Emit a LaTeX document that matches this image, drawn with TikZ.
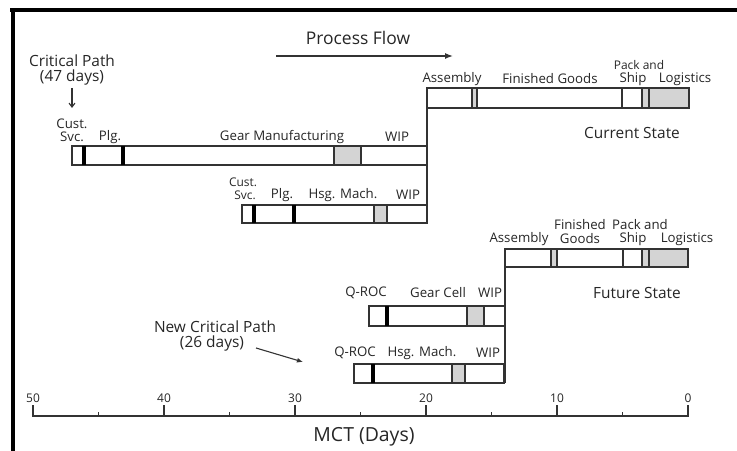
\documentclass[tikz,border=0pt]{standalone}
\usepackage{fontspec}
\setmainfont{Open Sans}
\usetikzlibrary{arrows.meta}
\definecolor{ln}{HTML}{333333}
\definecolor{gf}{HTML}{D4D4D4}
\tikzset{
  barbox/.style={draw=ln, line width=1.4bp, fill=white},
  grayseg/.style={draw=ln, line width=1.2bp, fill=gf},
  divline/.style={draw=ln, line width=1.2bp},
  blackmark/.style={draw=black, line width=3.2bp},
  lbl/.style={inner sep=0pt, font=\fontsize{13.3}{14}\selectfont, text=black!85},
  head/.style={inner sep=0pt, font=\fontsize{15.5}{16}\selectfont, text=black!85},
  smalllbl/.style={inner sep=0pt, font=\fontsize{12}{13}\selectfont, text=black!85},
  frameline/.style={draw=black, line width=4bp},
  axisline/.style={draw=ln, line width=1.3bp},
}
\begin{document}
\begin{tikzpicture}[x=1bp,y=-1bp]
\useasboundingbox (0,0) rectangle (737,451);
% frame
\draw[frameline] (10,10.5) -- (737,10.5);
\draw[frameline] (13,8.5) -- (13,451);

% ---------- Current state ----------
% top bar
\draw[barbox] (427,88) rectangle (689,108);
\draw[grayseg] (472,88) rectangle (477,108);
\draw[divline] (622,88) -- (622,108);
\draw[grayseg] (642,88) rectangle (649,108);
\draw[grayseg] (649,88) rectangle (689,108);
% gear manufacturing bar
\draw[barbox] (72,146) rectangle (427,165);
\draw[grayseg] (334,146) rectangle (361,165);
\draw[blackmark] (84,146) -- (84,165);
\draw[blackmark] (123,146) -- (123,165);
% housing bar
\draw[barbox] (242,205) rectangle (427,223);
\draw[grayseg] (374,205) rectangle (387,223);
\draw[blackmark] (254,205) -- (254,223);
\draw[blackmark] (294,205) -- (294,223);
% connector
\draw[divline, line width=1.4bp] (427,88) -- (427,223);

% ---------- Future state ----------
\draw[barbox] (505,249) rectangle (688,267);
\draw[grayseg] (551,249) rectangle (557,267);
\draw[divline] (623,249) -- (623,267);
\draw[grayseg] (642,249) rectangle (649,267);
\draw[grayseg] (649,249) rectangle (688,267);
% gear cell
\draw[barbox] (369,306) rectangle (505,326);
\draw[grayseg] (467,306) rectangle (484,326);
\draw[blackmark] (387,306) -- (387,326);
% housing
\draw[barbox] (354,364) rectangle (504,383);
\draw[grayseg] (452,364) rectangle (465,383);
\draw[blackmark] (373,364) -- (373,383);
\draw[divline, line width=1.4bp] (505,249) -- (505,383);

% ---------- Labels ----------
\node[inner sep=0pt, font=\fontsize{17.5}{18}\selectfont, text=black!85] (pf) at (358,38) {Process Flow};
\coordinate (pfa) at (276,56);
\coordinate (pfb) at (453,56);
\draw[ln, line width=1.3bp, -{Latex[length=8bp,width=6bp]}] (pfa) -- (pfb);

\node[head] (cp1) at (72,61) {Critical Path};
\node[head] (cp2) at (72,77) {(47 days)};
\coordinate (cpstart) at (72,88);
\coordinate (cpend) at (72,108);
\draw[ln, line width=1.1bp, -{Straight Barb[length=4bp,width=6bp]}] (cpstart) -- (cpend);

\node[lbl] (cust1) at (72,124) {Cust.};
\node[lbl] (svc1) at (72,137) {Svc.};
\node[lbl] (plg1) at (110,137) {Plg.};
\node[lbl] (gm) at (282,137) {Gear Manufacturing};
\node[lbl] (wip1) at (397,137) {WIP};

\node[lbl] (asm1) at (452,79) {Assembly};
\node[lbl] (fg1) at (550,79) {Finished Goods};
\node[smalllbl] (pa1) at (639,65) {Pack and};
\node[lbl] (sh1) at (633,79) {Ship};
\node[lbl] (lg1) at (685,79) {Logistics};
\node[head] (cs) at (632,133) {Current State};

\node[smalllbl] (cust2) at (243,182) {Cust.};
\node[smalllbl] (svc2) at (245,195.5) {Svc.};
\node[lbl] (plg2) at (282,195) {Plg.};
\node[lbl] (hm1) at (343,195) {Hsg. Mach.};
\node[lbl] (wip2) at (408,195) {WIP};

\node[lbl] (fin2) at (580,225) {Finished};
\node[lbl] (pa2) at (640,225) {Pack and};
\node[lbl] (asm2) at (519,239) {Assembly};
\node[lbl] (gd2) at (580,239) {Goods};
\node[lbl] (sh2) at (633,239) {Ship};
\node[lbl] (lg2) at (687,239) {Logistics};
\node[head] (fs) at (637,293) {Future State};

\node[lbl] (qr1) at (366,293) {Q-ROC};
\node[lbl] (gc) at (438,293) {Gear Cell};
\node[lbl] (wip3) at (490,293) {WIP};

\node[lbl] (qr2) at (355,353) {Q-ROC};
\node[lbl] (hm2) at (422,353) {Hsg. Mach.};
\node[lbl] (wip4) at (488,353) {WIP};

\node[head] (ncp1) at (215,327) {New Critical Path};
\node[head] (ncp2) at (212,343) {(26 days)};
\coordinate (ncpa) at (256,348);
\coordinate (ncpb) at (303,362);
\draw[ln, line width=1.1bp, -{Latex[length=6bp,width=5bp]}] (ncpa) -- (ncpb);

% ---------- Axis ----------
\draw[axisline] (33,405) -- (33,416) -- (688,416) -- (688,405);
\foreach \d in {10,20,30,40} {
  \draw[axisline] ({688-13.1*\d},405) -- ({688-13.1*\d},416);
}
\foreach \d in {5,15,25,35,45} {
  \draw[axisline] ({688-13.1*\d},412) -- ({688-13.1*\d},416);
}
\foreach \d in {0,10,20,30,40,50} {
  \node[smalllbl] at ({688-13.1*\d},398) {\d};
}
\node[inner sep=0pt, font=\fontsize{19.5}{20}\selectfont, text=black!85] (mct) at (364,437) {MCT (Days)};
\end{tikzpicture}
\end{document}
